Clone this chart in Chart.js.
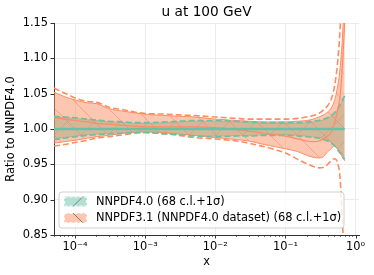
<!DOCTYPE html>
<html><head><meta charset="utf-8">
<script src="https://cdn.jsdelivr.net/npm/chart.js@4"></script>
<style>html,body{margin:0;padding:0;background:#fff;}canvas{display:block;}</style>
</head><body>
<canvas id="c" width="374" height="275"></canvas>
<script>
const titleText = 'u at 100 GeV';
const xAxisTitle = 'x';
const yAxisTitle = 'Ratio to NNPDF4.0';
const legendLabels = ['NNPDF4.0 (68 c.l.+1σ)', 'NNPDF3.1 (NNPDF4.0 dataset) (68 c.l.+1σ)'];
const yTicks = [0.85, 0.90, 0.95, 1.00, 1.05, 1.10, 1.15];

const xValues = [5e-5, 7e-5, 1e-4, 1.5e-4, 2e-4, 3e-4, 5e-4, 7e-4, 1e-3, 2e-3, 3e-3, 5e-3, 1e-2, 2e-2, 3e-2, 5e-2, 0.1, 0.15, 0.2, 0.25, 0.3, 0.35, 0.4, 0.45, 0.5, 0.55, 0.6, 0.65, 0.7];

const nn40Central = [1,1,1,1,1,1,1,1,1,1,1,1,1,1,1,1,1,1,1,1,1,1,1,1,1,1,1,1,1];
const nn40Upper68 = [1.017,1.016,1.015,1.013,1.012,1.010,1.009,1.008,1.008,1.009,1.010,1.011,1.011,1.010,1.009,1.008,1.008,1.008,1.009,1.010,1.011,1.013,1.015,1.018,1.022,1.027,1.033,1.040,1.046];
const nn40Lower68 = [0.986,0.988,0.990,0.992,0.993,0.994,0.995,0.996,0.996,0.994,0.993,0.991,0.990,0.991,0.991,0.992,0.992,0.991,0.990,0.989,0.988,0.986,0.984,0.981,0.977,0.972,0.967,0.962,0.958];
const nn40Upper1s = [1.018,1.017,1.016,1.014,1.013,1.011,1.010,1.009,1.009,1.010,1.011,1.012,1.012,1.011,1.010,1.009,1.009,1.009,1.010,1.011,1.012,1.014,1.016,1.019,1.023,1.028,1.034,1.041,1.047];
const nn40Lower1s = [0.985,0.987,0.989,0.991,0.992,0.993,0.994,0.995,0.995,0.993,0.992,0.990,0.989,0.990,0.990,0.991,0.991,0.990,0.989,0.988,0.987,0.985,0.983,0.980,0.976,0.971,0.966,0.961,0.957];

const nn31Central = [1.016,1.014,1.012,1.010,1.008,1.007,1.005,1.004,1.003,1.003,1.003,1.003,1.002,0.999,0.997,0.994,0.990,0.986,0.983,0.982,0.983,0.986,0.990,0.995,1.008,1.025,1.045,1.090,1.150];
const nn31Upper68 = [1.052,1.046,1.041,1.037,1.036,1.029,1.025,1.023,1.021,1.019,1.018,1.017,1.014,1.012,1.011,1.010,1.010,1.011,1.012,1.014,1.017,1.020,1.024,1.030,1.040,1.058,1.085,1.130,1.200];
const nn31Lower68 = [0.980,0.982,0.984,0.987,0.989,0.991,0.994,0.995,0.996,0.995,0.993,0.991,0.988,0.985,0.983,0.978,0.972,0.968,0.963,0.960,0.959,0.961,0.968,0.972,0.977,0.972,0.968,0.960,0.955];
const nn31Upper1s = [1.058,1.051,1.044,1.039,1.038,1.031,1.027,1.024,1.022,1.021,1.020,1.019,1.017,1.015,1.014,1.014,1.014,1.015,1.017,1.019,1.022,1.027,1.033,1.042,1.060,1.090,1.140,1.220,1.300];
const nn31Lower1s = [0.976,0.978,0.981,0.984,0.987,0.989,0.992,0.994,0.995,0.993,0.991,0.988,0.986,0.983,0.980,0.975,0.966,0.957,0.951,0.947,0.945,0.946,0.950,0.955,0.958,0.953,0.932,0.870,0.800];

const GREEN = '102,194,165';
const ORANGE = '252,141,98';
const FONT = '"DejaVu Sans", sans-serif';

function pts(arr){ return xValues.map((x,i)=>({x:x, y:arr[i]})); }

const canvas = document.getElementById('c');
const ctx0 = canvas.getContext('2d');
function hatch(fill, stroke, dir){
  const s = 27;
  const c = document.createElement('canvas');
  c.width = s; c.height = s;
  const g = c.getContext('2d');
  g.fillStyle = fill; g.fillRect(0,0,s,s);
  g.strokeStyle = stroke; g.lineWidth = 0.7;
  g.beginPath();
  if (dir === '/') { g.moveTo(-1, s+1); g.lineTo(s+1, -1); }
  else { g.moveTo(-1, -1); g.lineTo(s+1, s+1); }
  g.stroke();
  return ctx0.createPattern(c, 'repeat');
}
const greenPattern = hatch('rgba('+GREEN+',0.5)', 'rgba(80,140,120,0.5)', '/');
const orangePattern = hatch('rgba('+ORANGE+',0.5)', 'rgba(235,120,80,0.6)', '\\');

function isMajor(v){ const l = Math.log10(v); return Math.abs(l - Math.round(l)) < 1e-9; }
const sup = {'-':'⁻','0':'⁰','1':'¹','2':'²','3':'³','4':'⁴','5':'⁵'};
function powLabel(v){ const e = String(Math.round(Math.log10(v))); return '10' + e.split('').map(ch=>sup[ch]).join(''); }

const base = {pointRadius:0, pointHoverRadius:0, cubicInterpolationMode:'monotone', fill:false};

const datasets = [
  Object.assign({}, base, {label:'nn40u68', data:pts(nn40Upper68), borderColor:'rgba('+GREEN+',0.9)', borderWidth:0.8, order:10}),
  Object.assign({}, base, {label:'nn40l68', data:pts(nn40Lower68), borderColor:'rgba('+GREEN+',0.9)', borderWidth:0.8, fill:'-1', backgroundColor:greenPattern, order:10}),
  Object.assign({}, base, {label:'nn31u68', data:pts(nn31Upper68), borderColor:'rgba('+ORANGE+',1)', borderWidth:1, order:5}),
  Object.assign({}, base, {label:'nn31l68', data:pts(nn31Lower68), borderColor:'rgba('+ORANGE+',1)', borderWidth:1, fill:'-1', backgroundColor:orangePattern, order:5}),
  Object.assign({}, base, {label:'nn40u1s', data:pts(nn40Upper1s), borderColor:'rgba('+GREEN+',1)', borderWidth:1.6, borderDash:[6,3], order:2}),
  Object.assign({}, base, {label:'nn40l1s', data:pts(nn40Lower1s), borderColor:'rgba('+GREEN+',1)', borderWidth:1.6, borderDash:[6,3], order:2}),
  Object.assign({}, base, {label:'nn31u1s', data:pts(nn31Upper1s), borderColor:'rgba('+ORANGE+',1)', borderWidth:1.6, borderDash:[6,3], order:2}),
  Object.assign({}, base, {label:'nn31l1s', data:pts(nn31Lower1s), borderColor:'rgba('+ORANGE+',1)', borderWidth:1.6, borderDash:[6,3], order:2}),
  Object.assign({}, base, {label:'nn31c', data:pts(nn31Central), borderColor:'rgba('+ORANGE+',1)', borderWidth:1.2, order:1}),
  Object.assign({}, base, {label:'nn40c', data:pts(nn40Central), borderColor:'rgba('+GREEN+',1)', borderWidth:2.4, order:0})
];

const extras = {
  id:'extras',
  afterDraw(chart){
    const ctx = chart.ctx, a = chart.chartArea, xs = chart.scales.x, ys = chart.scales.y;
    ctx.save();
    ctx.strokeStyle = '#333';
    xs.ticks.forEach(t=>{
      const px = Math.round(xs.getPixelForValue(t.value)) + 0.5;
      const maj = isMajor(t.value);
      ctx.lineWidth = maj ? 1 : 0.7;
      ctx.beginPath(); ctx.moveTo(px, a.bottom); ctx.lineTo(px, a.bottom + (maj ? 3.5 : 2)); ctx.stroke();
    });
    ys.ticks.forEach(t=>{
      const py = Math.round(ys.getPixelForValue(t.value)) + 0.5;
      ctx.lineWidth = 1;
      ctx.beginPath(); ctx.moveTo(a.left - 3.5, py); ctx.lineTo(a.left, py); ctx.stroke();
    });
    ctx.fillStyle = '#000';
    ctx.font = '13.7px ' + FONT;
    ctx.textAlign = 'center'; ctx.textBaseline = 'middle';
    ctx.fillText(titleText, (a.left + a.right)/2, 12);
    const bx = a.left + 5, by = 192, bw = 285, bh = 36, r = 3;
    ctx.fillStyle = 'rgba(255,255,255,0.8)';
    ctx.strokeStyle = '#d0d0d0'; ctx.lineWidth = 1;
    ctx.beginPath();
    ctx.moveTo(bx + r, by); ctx.lineTo(bx + bw - r, by); ctx.arcTo(bx + bw, by, bx + bw, by + r, r);
    ctx.lineTo(bx + bw, by + bh - r); ctx.arcTo(bx + bw, by + bh, bx + bw - r, by + bh, r);
    ctx.lineTo(bx + r, by + bh); ctx.arcTo(bx, by + bh, bx, by + bh - r, r);
    ctx.lineTo(bx, by + r); ctx.arcTo(bx, by, bx + r, by, r);
    ctx.closePath(); ctx.fill(); ctx.stroke();
    const rows = [{y:201.5, col:GREEN, dir:'/'}, {y:218, col:ORANGE, dir:'\\'}];
    rows.forEach((row, i)=>{
      const px = 64, pw = 23, ph = 10, py = row.y - ph/2;
      ctx.fillStyle = 'rgba(' + row.col + ',0.5)';
      ctx.fillRect(px, py, pw, ph);
      ctx.strokeStyle = 'rgba(90,90,90,0.9)'; ctx.lineWidth = 0.8; ctx.setLineDash([]);
      ctx.beginPath();
      if (row.dir === '/') { ctx.moveTo(px + 9, py + ph); ctx.lineTo(px + 19, py); }
      else { ctx.moveTo(px + 9, py); ctx.lineTo(px + 19, py + ph); }
      ctx.stroke();
      ctx.strokeStyle = 'rgba(255,255,255,0.9)'; ctx.lineWidth = 1.2; ctx.setLineDash([3,2]);
      ctx.strokeRect(px + 0.5, py + 0.5, pw - 1, ph - 1);
      ctx.setLineDash([]);
      ctx.fillStyle = '#000';
      ctx.font = '11.4px ' + FONT;
      ctx.textAlign = 'left'; ctx.textBaseline = 'middle';
      ctx.fillText(legendLabels[i], 96, row.y + 0.5);
    });
    ctx.restore();
  }
};

new Chart(canvas, {
  type:'line',
  data:{datasets:datasets},
  plugins:[extras],
  options:{
    responsive:false, animation:false, devicePixelRatio:1,
    layout:{padding:{left:0, right:15, top:23, bottom:0}},
    plugins:{legend:{display:false}, tooltip:{enabled:false}, title:{display:false}},
    elements:{line:{tension:0}},
    scales:{
      x:{
        type:'logarithmic', min:5e-5, max:1.12,
        afterBuildTicks(scale){
          const t = [];
          for (let e = -5; e <= 0; e++) for (let m = 1; m <= 9; m++) {
            const v = m * Math.pow(10, e);
            if (v >= scale.min * 0.9999 && v <= scale.max) t.push({value: v});
          }
          scale.ticks = t;
        },
        afterFit(scale){ scale.height = 40; },
        ticks:{autoSkip:false, maxRotation:0, padding:5, color:'#000', font:{family:FONT, size:11.4},
          callback(v){ return isMajor(v) ? powLabel(v) : ''; }},
        grid:{drawTicks:false, color:(c)=> (c.tick && isMajor(c.tick.value)) ? '#ebebeb' : 'rgba(0,0,0,0)'},
        border:{display:true, color:'#333', width:1},
        title:{display:true, text:xAxisTitle, color:'#000', font:{family:FONT, size:11.4}, padding:{top:0, bottom:6}}
      },
      y:{
        type:'linear', min:0.85, max:1.15,
        afterBuildTicks(scale){ scale.ticks = yTicks.map(v=>({value:v})); },
        afterFit(scale){ scale.width = 54; },
        ticks:{padding:6, color:'#000', font:{family:FONT, size:11.4}, callback(v){ return Number(v).toFixed(2); }},
        grid:{drawTicks:false, color:'#ebebeb'},
        border:{display:true, color:'#333', width:1},
        title:{display:true, text:yAxisTitle, color:'#000', font:{family:FONT, size:11.4}, padding:{top:4, bottom:0}}
      }
    }
  }
});
</script>
</body></html>
